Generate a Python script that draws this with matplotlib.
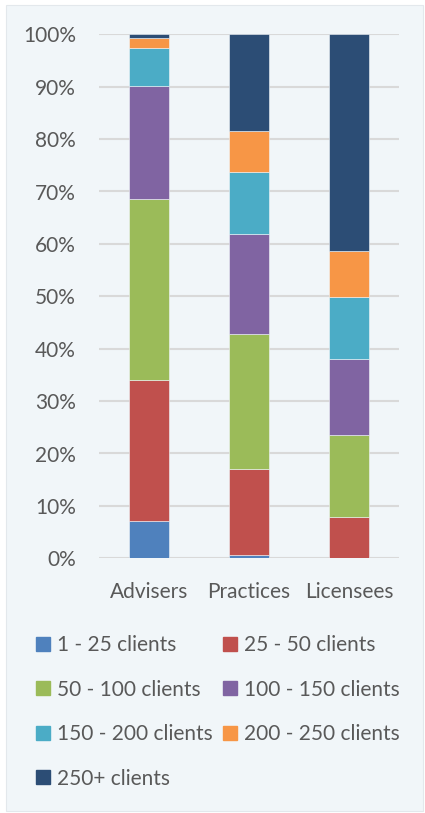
import numpy as np
import matplotlib.pyplot as plt
from matplotlib.patches import Rectangle, Patch
from matplotlib.ticker import PercentFormatter

plt.rcParams['font.family'] = ['Lato', 'DejaVu Sans']

groups = ['Advisers', 'Practices', 'Licensees']
series = ['1 - 25 clients', '25 - 50 clients', '50 - 100 clients', '100 - 150 clients',
          '150 - 200 clients', '200 - 250 clients', '250+ clients']
colors = ['#4F81BD', '#C0504D', '#9BBB59', '#8064A2', '#4BACC6', '#F79646', '#2C4D75']

# share of each group (percent), one list per client band
c1_25 = [7.1, 0.6, 0.0]
c25_50 = [26.9, 16.4, 7.9]
c50_100 = [34.6, 25.9, 15.6]
c100_150 = [21.6, 18.9, 14.5]
c150_200 = [7.2, 12.0, 11.9]
c200_250 = [1.8, 7.7, 8.8]
c250p = [0.8, 18.5, 41.3]
values = [c1_25, c25_50, c50_100, c100_150, c150_200, c200_250, c250p]

fig = plt.figure(figsize=(4.25, 8.13), dpi=100)
fig.patch.set_facecolor('white')
bg = '#F1F6F9'
fig.patches.append(Rectangle((6 / 425, 2 / 813), 417 / 425, 806 / 813,
                             transform=fig.transFigure, facecolor=bg,
                             edgecolor='#E3E8EC', linewidth=0.8, zorder=-5))

ax = fig.add_axes([99 / 425, 1 - 558.3 / 813, 300 / 425, 524 / 813])
ax.set_facecolor('none')

x = np.arange(len(groups))
bottom = np.zeros(len(groups))
for name, vals, col in zip(series, values, colors):
    vals = np.array(vals)
    ax.bar(x, vals, 0.4, bottom=bottom, color=col, label=name,
           edgecolor=bg, linewidth=0.4, zorder=3)
    bottom += vals

ax.set_xlim(-0.5, 2.5)
ax.set_ylim(0, 100)
ax.set_yticks(np.arange(0, 101, 10))
ax.yaxis.set_major_formatter(PercentFormatter(decimals=0))
ax.set_xticks(x)
ax.set_xticklabels(groups)
ax.grid(axis='y', color='#D9D9D9', linewidth=1.5, zorder=0)
ax.tick_params(length=0, labelsize=15, colors='#595959')
ax.tick_params(axis='x', pad=17)
ax.tick_params(axis='y', pad=16.5)
for s in ax.spines.values():
    s.set_visible(False)

handles = [Patch(color=c) for c in colors]
order = [0, 2, 4, 6, 1, 3, 5]
leg = fig.legend([handles[i] for i in order], [series[i] for i in order],
                 ncol=2, loc='upper left', bbox_to_anchor=(36 / 425, 1 - 635 / 813),
                 frameon=False, fontsize=15, handlelength=0.65, handleheight=0.65,
                 handletextpad=0.35, columnspacing=0.5, labelspacing=1.18,
                 borderaxespad=0, borderpad=0)
for t in leg.get_texts():
    t.set_color('#595959')

fig.savefig('out.png', dpi=100)
